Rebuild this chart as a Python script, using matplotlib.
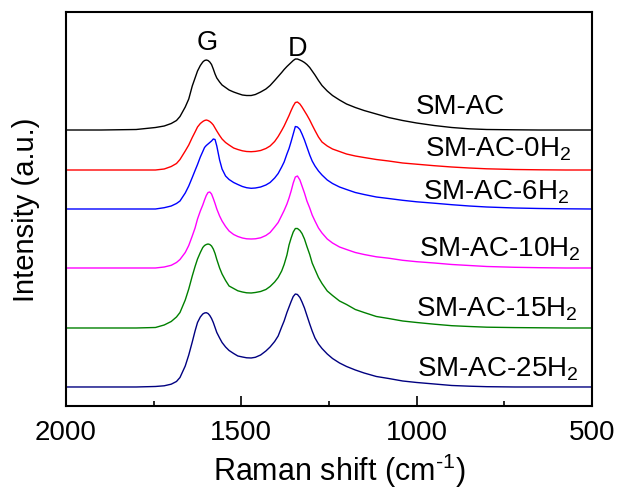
import matplotlib
matplotlib.use("Agg")
import matplotlib.pyplot as plt
from matplotlib.ticker import MultipleLocator

plt.rcParams['font.family'] = ['Liberation Sans', 'DejaVu Sans']
plt.rcParams['mathtext.fontset'] = 'custom'
plt.rcParams['mathtext.rm'] = 'Liberation Sans'
plt.rcParams['mathtext.it'] = 'Liberation Sans'

# Raman shift grid (cm^-1)
raman_shift = [2000, 1900, 1800, 1745, 1720, 1700, 1685, 1675, 1660, 1650,
               1640, 1632, 1625, 1617, 1610, 1605, 1600, 1595, 1590, 1585,
               1580, 1575, 1570, 1562, 1555, 1545, 1535, 1522, 1510, 1497,
               1485, 1472, 1460, 1445, 1430, 1418, 1405, 1395, 1385, 1378,
               1370, 1364, 1358, 1352, 1346, 1340, 1333, 1327, 1320, 1313,
               1305, 1298, 1290, 1280, 1270, 1255, 1240, 1220, 1200, 1175,
               1150, 1115, 1080, 1040, 1000, 950, 900, 850, 800, 720,
               650, 575, 500]

# Intensities (a.u.) above each spectrum's own baseline
sm_ac = [0, 0, 0.5, 2.5, 4, 6.5, 9.5, 13.5, 23, 31,
         44, 52, 59, 64.5, 68, 69.5, 70, 69.5, 68, 65.5,
         61, 56, 52, 48, 45, 42.5, 40, 38, 36.5, 35,
         34.5, 34.5, 35.5, 38, 41, 44.5, 49.5, 53.5, 57.5, 60.5,
         63.5, 65.5, 67.5, 69.5, 71, 71, 70, 69, 67.5, 65.5,
         62.5, 59, 55, 49.5, 44.5, 39, 34.5, 30, 26, 22.5,
         19.5, 16, 12.5, 9.5, 7, 4.5, 2.5, 1.2, 0.5, 0.2,
         0, 0, 0]
sm_ac_0h2 = [0, 0, 0, 0, 1, 3.5, 6.5, 10.5, 19, 25,
             32.5, 38, 43, 46.5, 48.5, 49.5, 50, 49.5, 48.5, 47,
             45, 42, 39, 34.5, 31, 27.5, 25, 22, 20.5, 19.2,
             18.5, 18.3, 18.6, 19.5, 21.5, 24, 28.5, 33.5, 39.5, 44,
             50, 54.5, 59.5, 64, 67.5, 68, 66, 63, 59, 55,
             50, 45, 39.5, 33, 28, 24, 21, 18.5, 16, 14,
             12.5, 10.5, 9, 7, 5.8, 4.3, 3, 2, 1.2, 0.5,
             0.2, 0, 0]
sm_ac_6h2 = [0, 0, 0, 0, 1.3, 3, 5.5, 8, 16, 23,
             31.5, 38.5, 44.5, 52, 57.5, 61.5, 63.5, 65, 66.5, 68,
             70, 69.5, 63, 49, 40, 33, 29.5, 26.5, 24.5, 22.5,
             21.3, 20.7, 21, 22, 24, 26.5, 31, 35.5, 42, 47,
             55, 60.5, 67.5, 75, 82.5, 82, 79.5, 75, 69, 62,
             54, 48, 43, 38, 34, 29, 25.5, 22, 19.5, 16.5,
             14.5, 12, 10.5, 8.7, 7.2, 5.8, 4.3, 3, 2, 1,
             0.5, 0.2, 0]
sm_ac_10h2 = [0, 0, 0, 0, 1, 2.7, 5.5, 8.5, 15.5, 22.5,
              32, 40, 49, 57, 63, 68, 72.5, 75.5, 76, 74,
              69.5, 64.5, 59, 52, 47, 41.5, 37, 33.5, 31.5, 30,
              29.2, 29, 29.2, 30.2, 32.5, 35.5, 41, 45.5, 52.5, 57.5,
              64, 70, 77, 85, 91, 92, 88, 82, 75, 67,
              60, 53, 47, 40, 35, 29, 25, 21, 18.5, 15.5,
              13.5, 11.2, 9.8, 7.7, 6.3, 5, 3.5, 2.5, 1.5, 0.7,
              0.3, 0, 0]
sm_ac_15h2 = [0, 0, 0, 0.5, 3, 6.5, 11, 15.5, 28, 39,
              52, 61.5, 69, 75.5, 80.5, 82.5, 83.5, 84, 83.5, 82,
              79, 74.5, 68.5, 60, 54, 47.5, 42, 39.5, 37.2, 36,
              35.2, 35, 35.5, 36.5, 38.5, 41.5, 46, 50.5, 57, 63.5,
              73, 83, 90, 96, 99.5, 99.5, 97.5, 94.5, 89, 81.5,
              73.5, 65, 58.5, 50.5, 44.5, 37, 32.5, 27, 23.5, 18.5,
              15.5, 11.5, 9.5, 7, 5.5, 3.8, 2.3, 1.5, 0.8, 0.4,
              0.2, 0, 0]
sm_ac_25h2 = [0, 0, 0, 0.5, 1.2, 2.8, 5.5, 9.5, 21, 32,
              45, 56, 64.5, 70, 73, 74, 74.3, 73.5, 71.5, 68.5,
              64.5, 59.5, 54.5, 49, 44.5, 40, 36.5, 33.5, 31, 30,
              29.2, 29, 29.7, 32, 36, 40, 45.5, 51, 60, 66,
              74.5, 80, 85.5, 90.5, 93, 92.5, 89.5, 85, 79, 71.5,
              63, 56, 49, 43, 38.5, 33, 28.5, 24, 20.5, 17,
              14, 10.5, 8.5, 6, 4.5, 3, 1.5, 0.8, 0.3, 0,
              0, 0, 0]

series = [sm_ac, sm_ac_0h2, sm_ac_6h2, sm_ac_10h2, sm_ac_15h2, sm_ac_25h2]
labels = ['SM-AC', 'SM-AC-0H$_2$', 'SM-AC-6H$_2$', 'SM-AC-10H$_2$',
          'SM-AC-15H$_2$', 'SM-AC-25H$_2$']
offsets = [276.5, 236.5, 197.5, 138.5, 78.5, 19.5]
colors = ['#000000', '#FF0000', '#0000FF', '#FF00FF', '#008000', '#000080']
label_pos = [(0.665, 0.760), (0.683, 0.655), (0.679, 0.544),
             (0.672, 0.402), (0.665, 0.248), (0.667, 0.098)]

fig = plt.figure(figsize=(6.2, 4.89), dpi=100)
ax = fig.add_axes([0.1065, 0.1667, 0.8483, 0.8073])

for vals, off, c in zip(series, offsets, colors):
    ax.plot(raman_shift, [v + off for v in vals], color=c, lw=1.0)

for lab, (px, py) in zip(labels, label_pos):
    ax.text(px, py, lab, transform=ax.transAxes, fontsize=20, ha='left', va='center')

ax.text(1598, 364.5, 'G', fontsize=19.5, ha='center', va='center')
ax.text(1341, 359, 'D', fontsize=19.5, ha='center', va='center')

ax.set_xlim(2000, 500)
ax.set_ylim(0, 394.8)
ax.xaxis.set_major_locator(MultipleLocator(500))
ax.xaxis.set_minor_locator(MultipleLocator(250))
ax.tick_params(axis='x', which='major', direction='in', length=7.5, width=1.2,
               labelsize=20, pad=9, top=False)
ax.tick_params(axis='x', which='minor', direction='in', length=3.8, width=1.2, top=False)
ax.set_yticks([])
for s in ax.spines.values():
    s.set_linewidth(1.5)

ax.set_xlabel('Raman shift (cm$^{\\text{-}1}$)', fontsize=22)
ax.xaxis.set_label_coords(0.52, -0.112)
ax.set_ylabel('Intensity (a.u.)', fontsize=21)
ax.yaxis.set_label_coords(-0.05, 0.5)

fig.savefig('out.png', dpi=100)
